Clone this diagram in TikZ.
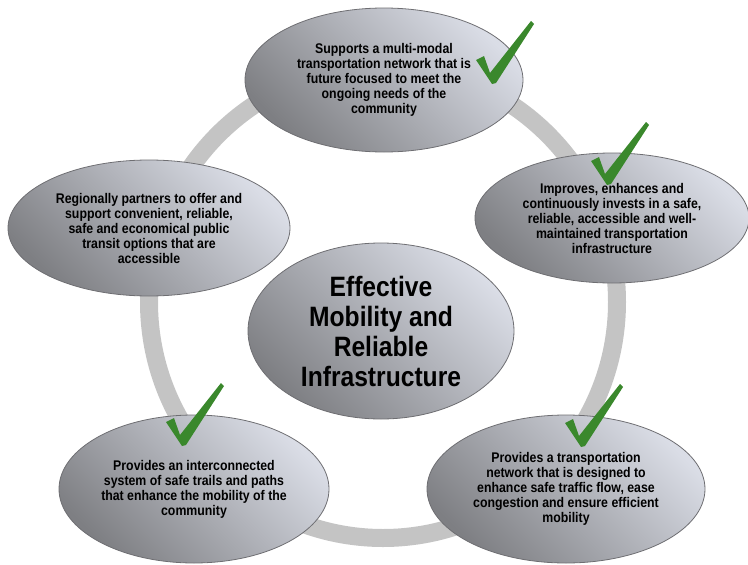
\documentclass[tikz,border=0pt]{standalone}
\usepackage{fontspec}
\setmainfont{Liberation Sans}[FakeStretch=0.88]
\usetikzlibrary{shapes}
\definecolor{ringgrey}{RGB}{196,196,196}
\definecolor{ovaldark}{RGB}{126,127,131}
\definecolor{ovallight}{RGB}{218,221,230}
\definecolor{ovalline}{RGB}{110,110,114}
\definecolor{tickgreen}{RGB}{58,136,44}
\tikzstyle{oval} = [ellipse, draw=ovalline, line width=0.8pt,
    top color=ovaldark, bottom color=ovallight, shading angle=135,
    inner sep=0pt, align=center, font=\bfseries\fontsize{14}{15}\selectfont]
\tikzstyle{hub} = [oval, font=\bfseries\fontsize{28}{30}\selectfont]
\tikzstyle{ring} = [draw=ringgrey, line width=18pt]
\tikzstyle{tickmark} = [fill=tickgreen]
\newcommand{\greentick}[1]{\fill[tickmark, shift={#1}] (-17,-21) -- (-9,-25) -- (-3,-8)
    -- (38,-60) -- (41,-57) -- (3,2) -- (-1,3) -- cycle;}

\begin{document}
\begin{tikzpicture}[x=1pt, y=-1pt]
    \useasboundingbox (0,0) rectangle (748,565);
    % Ring behind
    \draw[ring] (383,302) ellipse [x radius=234pt, y radius=236pt];

    % Place nodes
    \node [hub, minimum width=266pt, minimum height=176pt] (core) at (381,331)
        {Effective\\Mobility and\\Reliable\\Infrastructure};
    \node [oval, minimum width=278pt, minimum height=144pt] (multimodal) at (384,80)
        {Supports a multi-modal\\transportation network that is\\future focused to meet the\\ongoing needs of the\\community};
    \node [oval, minimum width=274pt, minimum height=130pt] (invest) at (612,218)
        {Improves, enhances and\\continuously invests in a safe,\\reliable, accessible and well-\\maintained transportation\\infrastructure};
    \node [oval, minimum width=282pt, minimum height=136pt] (transit) at (149,228)
        {Regionally partners to offer and\\support convenient, reliable,\\safe and economical public\\transit options that are\\accessible};
    \node [oval, minimum width=270pt, minimum height=148pt] (trails) at (194,489)
        {Provides an interconnected\\system of safe trails and paths\\that enhance the mobility of the\\community};
    \node [oval, minimum width=278pt, minimum height=148pt] (traffic) at (566,489)
        {Provides a transportation\\network that is designed to\\enhance safe traffic flow, ease\\congestion and ensure efficient\\mobility};

    % Checks
    \greentick{(493,81)}
    \greentick{(608,182)}
    \greentick{(183,443)}
    \greentick{(582,444)}
\end{tikzpicture}
\end{document}
